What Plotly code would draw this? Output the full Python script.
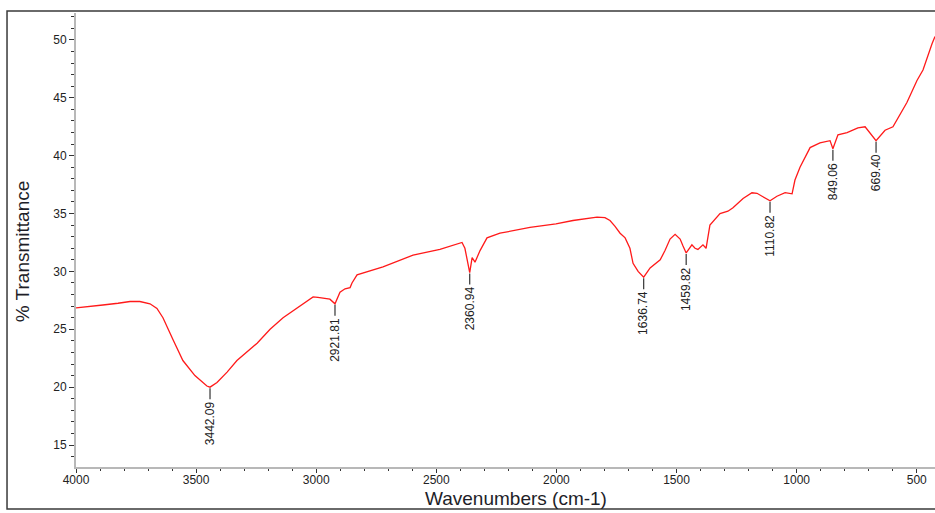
import plotly.graph_objects as go

# FTIR spectrum: wavenumber (cm-1) and % transmittance
wavenumber = [
    4000, 3942, 3888, 3825, 3775, 3734, 3692, 3663, 3638, 3596,
    3555, 3505, 3455, 3442.09, 3413, 3371, 3330, 3246, 3192, 3138,
    3067, 3013, 2993, 2972, 2943, 2921.81, 2901, 2880, 2859, 2851,
    2830, 2722, 2651, 2597, 2485, 2393, 2381, 2360.94, 2351, 2339,
    2318, 2289, 2235, 2110, 2002, 1931, 1831, 1798, 1777, 1756,
    1735, 1714, 1694, 1681, 1660, 1636.74, 1610, 1568, 1548, 1527,
    1506, 1485, 1473, 1459.82, 1436, 1423, 1411, 1390, 1377, 1361,
    1319, 1286, 1265, 1223, 1186, 1165, 1144, 1110.82, 1082, 1048,
    1019, 1007, 986, 944, 903, 861, 849.06, 828, 790, 745,
    715, 695, 669.40, 632, 599, 541, 499, 474, 457, 436,
    424,
]
transmittance = [
    26.85, 26.95, 27.1, 27.25, 27.4, 27.4, 27.2, 26.8, 26.0, 24.1,
    22.3, 21.0, 20.1, 20.0, 20.4, 21.3, 22.3, 23.8, 25.0, 26.0,
    27.0, 27.8, 27.75, 27.7, 27.6, 27.2, 28.2, 28.5, 28.6, 29.0,
    29.7, 30.4, 31.0, 31.4, 31.9, 32.5, 32.0, 29.9, 31.2, 30.8,
    31.8, 32.9, 33.3, 33.8, 34.1, 34.4, 34.7, 34.65, 34.4, 33.9,
    33.3, 32.9, 32.0, 30.7, 30.0, 29.5, 30.3, 31.0, 31.8, 32.8,
    33.2, 32.8, 32.2, 31.6, 32.3, 32.0, 31.9, 32.3, 32.0, 34.0,
    35.0, 35.2, 35.5, 36.3, 36.8, 36.75, 36.5, 36.1, 36.5, 36.8,
    36.7, 37.9, 39.0, 40.7, 41.1, 41.3, 40.6, 41.8, 42.0, 42.4,
    42.5, 42.0, 41.3, 42.2, 42.5, 44.6, 46.5, 47.4, 48.5, 49.7,
    50.3,
]

# Labelled absorption bands
peak_positions = [3442.09, 2921.81, 2360.94, 1636.74, 1459.82, 1110.82, 849.06, 669.40]
peak_labels = ["3442.09", "2921.81", "2360.94", "1636.74", "1459.82", "1110.82", "849.06", "669.40"]

x_ticks = [4000, 3500, 3000, 2500, 2000, 1500, 1000, 500]
y_ticks = [15, 20, 25, 30, 35, 40, 45, 50]

fig = go.Figure()
fig.add_trace(go.Scatter(
    x=wavenumber, y=transmittance, mode="lines",
    line=dict(color="#ff1a1a", width=1.3),
    hoverinfo="skip", showlegend=False,
))

shapes = []
annotations = []
for pos, lab in zip(peak_positions, peak_labels):
    t = transmittance[wavenumber.index(pos)]
    shapes.append(dict(
        type="line", xref="x", yref="y", ysizemode="pixel", yanchor=t,
        x0=pos, x1=pos, y0=-1, y1=-12,
        line=dict(color="#333333", width=1.2),
    ))
    annotations.append(dict(
        x=pos, y=t, xref="x", yref="y", text=lab, showarrow=False,
        textangle=-90, xanchor="center", yanchor="top", yshift=-12,
        font=dict(family="Liberation Sans, Arial", size=12, color="#222222"),
    ))

# Axis titles
annotations.append(dict(
    x=0.512, y=-0.0695, xref="paper", yref="paper", text="Wavenumbers (cm-1)",
    showarrow=False, xanchor="center", yanchor="middle",
    font=dict(family="Liberation Sans, Arial", size=19, color="#1e1e28"),
))
annotations.append(dict(
    x=-0.063, y=0.475, xref="paper", yref="paper", text="% Transmittance",
    showarrow=False, textangle=-90, xanchor="center", yanchor="middle",
    font=dict(family="Liberation Sans, Arial", size=19, color="#1e1e28"),
))

# Outer frame around the whole chart
shapes.append(dict(
    type="rect", xref="paper", yref="paper",
    x0=-0.0803, x1=1.05, y0=-0.0925, y1=1.0044,
    line=dict(color="#3a3a3a", width=1.5), fillcolor="rgba(0,0,0,0)",
))

axis_font = dict(family="Liberation Sans, Arial", size=12, color="#222222")

fig.update_layout(
    width=935, height=513,
    margin=dict(l=76, r=0, t=13, b=46),
    paper_bgcolor="white", plot_bgcolor="white",
    shapes=shapes, annotations=annotations,
    xaxis=dict(
        range=[4000, 424], tickvals=x_ticks, ticktext=[str(v) for v in x_ticks],
        showgrid=False, zeroline=False, showline=True,
        linecolor="#b8b8b8", linewidth=2,
        ticks="outside", ticklen=4, tickcolor="#333333", tickwidth=1,
        tickfont=axis_font, ticklabelstandoff=-3,
        minor=dict(dtick=100, tick0=0, ticks="outside", ticklen=2,
                   tickcolor="#333333", tickwidth=1),
    ),
    yaxis=dict(
        range=[13.1, 52.33], tickvals=y_ticks,
        showgrid=False, zeroline=False, showline=True,
        linecolor="#b8b8b8", linewidth=2,
        ticks="outside", ticklen=5, tickcolor="#333333", tickwidth=1,
        tickfont=axis_font,
        minor=dict(dtick=1, tick0=0, ticks="outside", ticklen=3,
                   tickcolor="#333333", tickwidth=1),
    ),
)

fig.write_html("out.html")
